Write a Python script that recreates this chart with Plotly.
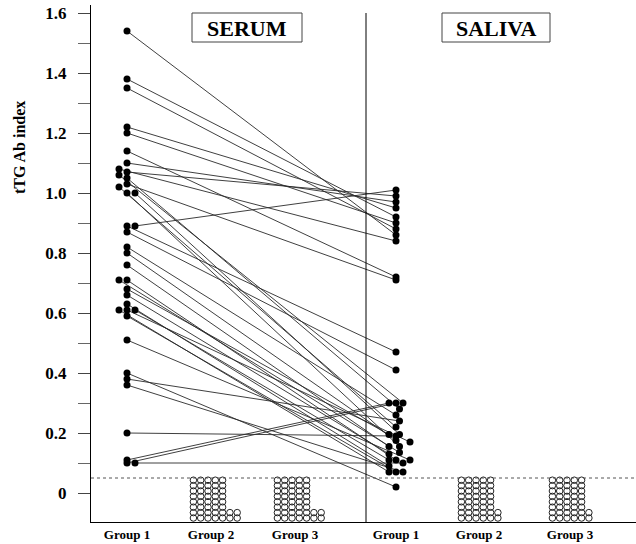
import plotly.graph_objects as go

# ---------------- data ----------------
group_labels = ["Group 1", "Group 2", "Group 3", "Group 1", "Group 2", "Group 3"]
panel_labels = ["SERUM", "SALIVA"]
ytick_vals = [0, 0.2, 0.4, 0.6, 0.8, 1.0, 1.2, 1.4, 1.6]
ytick_text = ["0", "0.2", "0.4", "0.6", "0.8", "1.0", "1.2", "1.4", "1.6"]
cutoff = 0.05

# Paired values, Group 1 patients: serum index and saliva index
serum_g1 = [1.54, 1.38, 1.35, 1.22, 1.20, 1.14, 1.10, 1.08, 1.07, 1.06,
            1.05, 1.03, 1.02, 1.00, 1.00, 0.89, 0.89, 0.87, 0.82, 0.80,
            0.76, 0.71, 0.71, 0.68, 0.66, 0.63, 0.61, 0.61, 0.61, 0.59,
            0.51, 0.40, 0.38, 0.36, 0.20, 0.11, 0.10, 0.10]
saliva_g1 = [0.86, 0.92, 0.88, 0.95, 0.90, 0.72, 0.97, 0.84, 0.99, 0.30,
             0.28, 0.71, 0.22, 0.195, 0.155, 0.47, 1.01, 0.41, 0.26, 0.175,
             0.155, 0.135, 0.11, 0.195, 0.13, 0.09, 0.07, 0.17, 0.11, 0.07,
             0.11, 0.02, 0.24, 0.07, 0.19, 0.30, 0.30, 0.10]
# dot-plot column slot (overlapping points pushed sideways)
serum_slot = [0, 0, 0, 0, 0, 0, 0, -1, 0, -1,
              0, 0, -1, 1, 0, 0, 1, 0, 0, 0,
              0, -1, 0, 0, 0, 0, -1, 0, 1, 0,
              0, 0, 0, 0, 0, 0, 0, 1]
saliva_slot = [0, 0, 0, 0, 0, 0, 0, 0, 0, 1,
               0.5, 0, 0, 0.5, 0.5, 0, 0, 0, 0, 0,
               -1, 0.5, 0, -1, -1, -1, -1, 2, -1, 0,
               2, 0, 0.5, 1, 0, -1, 0, 1]

# Groups 2 and 3: number of subjects (all negative, drawn as open circles)
serum_g2_n = 44
serum_g3_n = 44
saliva_g2_n = 42
saliva_g3_n = 42

# ---------------- layout helpers ----------------
W, H = 636, 544
ML, MR, MT, MB = 91, 0, 5, 22
X0_PX, PX_PER_X = 127.0, 84.0          # x=1 at 127 px, 84 px per unit
Y0_PX, PX_PER_Y = 493.0, 300.0          # y=0 at 493 px, 300 px per unit

def xd(px):
    return (px - X0_PX) / PX_PER_X + 1

def yd(py):
    return (Y0_PX - py) / PX_PER_Y

x_range = [xd(ML), xd(W - MR)]
y_range = [yd(H - MB), yd(MT)]

centers = [xd(127), xd(211), xd(295), xd(396), xd(479), xd(570)]
slot_dx = 8 / PX_PER_X
saliva_dx = 7 / PX_PER_X

serum_x = [centers[0] + s * slot_dx for s in serum_slot]
saliva_x = [centers[3] + s * saliva_dx for s in saliva_slot]

fig = go.Figure()

# connecting lines
lx, ly = [], []
for a, b, c, d in zip(serum_x, serum_g1, saliva_x, saliva_g1):
    lx += [a, c, None]
    ly += [b, d, None]
fig.add_trace(go.Scatter(x=lx, y=ly, mode="lines",
                         line=dict(color="#2a2a2a", width=0.9),
                         hoverinfo="skip", showlegend=False))

fig.add_trace(go.Scatter(x=serum_x, y=serum_g1, mode="markers",
                         marker=dict(color="black", size=7),
                         showlegend=False))
fig.add_trace(go.Scatter(x=saliva_x, y=saliva_g1, mode="markers",
                         marker=dict(color="black", size=7),
                         showlegend=False))

# open-circle blocks for negative groups
col_dx = 7.3 / PX_PER_X
row_dy = 5.4 / PX_PER_Y
top_row_y = yd(518)

def block(n, cx, wide):
    xs, ys = [], []
    rows = []
    remaining = n
    for _ in range(2):
        k = min(wide, remaining)
        rows.append(k)
        remaining -= k
    while remaining > 0:
        k = min(5, remaining)
        rows.append(k)
        remaining -= k
    for r, k in enumerate(rows):
        for c in range(k):
            xs.append(cx + (c - 2) * col_dx - 3 / PX_PER_X)
            ys.append(top_row_y + r * row_dy)
    return xs, ys

for n, ci, wide in [(serum_g2_n, 1, 7), (serum_g3_n, 2, 7),
                    (saliva_g2_n, 4, 6), (saliva_g3_n, 5, 6)]:
    bx, by = block(n, centers[ci], wide)
    fig.add_trace(go.Scatter(x=bx, y=by, mode="markers",
                             marker=dict(symbol="circle-open", size=6.5,
                                         color="#222222", line=dict(width=1)),
                             showlegend=False))

serif = "Liberation Serif, Times New Roman, serif"

# cutoff dashed line
fig.add_shape(type="line", xref="paper", x0=0, x1=1, yref="y",
              y0=cutoff, y1=cutoff,
              line=dict(color="#555555", width=1, dash="dot"))
# vertical divider
fig.add_shape(type="line", xref="x", x0=xd(366), x1=xd(366), yref="y",
              y0=y_range[0], y1=yd(13), line=dict(color="black", width=1))

# panel title boxes
for label, (px0, px1) in zip(panel_labels, [(192, 302), (442, 550)]):
    fig.add_shape(type="rect", xref="x", yref="y",
                  x0=xd(px0), x1=xd(px1), y0=yd(42), y1=yd(13),
                  line=dict(color="#444444", width=1), fillcolor="white")
    fig.add_annotation(x=xd((px0 + px1) / 2), y=yd(28), xref="x", yref="y",
                       text=label, showarrow=False,
                       font=dict(family=serif, size=22, color="black",
                                 weight="bold"))

# y-axis title
fig.add_annotation(xref="paper", yref="paper",
                   x=(20 - ML) / (W - ML - MR),
                   y=(H - 148 - MB) / (H - MT - MB),
                   xanchor="center", yanchor="middle",
                   text="tTG Ab index", textangle=-90, showarrow=False,
                   font=dict(family=serif, size=16, color="black",
                             weight="bold"))

fig.update_layout(
    width=W, height=H,
    margin=dict(l=ML, r=MR, t=MT, b=MB, pad=0),
    paper_bgcolor="white", plot_bgcolor="white",
    showlegend=False,
    xaxis=dict(range=x_range, showgrid=False, zeroline=False,
               showline=True, linecolor="black", linewidth=1,
               tickvals=centers, ticktext=group_labels, ticks="",
               tickfont=dict(family=serif, size=13, color="black",
                             weight="bold")),
    yaxis=dict(range=y_range, showgrid=False, zeroline=False,
               showline=True, linecolor="black", linewidth=1,
               tickvals=ytick_vals, ticktext=ytick_text,
               ticks="outside", ticklen=12, tickcolor="#444444",
               ticklabelstandoff=8,
               tickfont=dict(family=serif, size=17, color="black",
                             weight="bold"),
               minor=dict(tickvals=[0.1, 0.3, 0.5, 0.7, 0.9, 1.1, 1.3, 1.5],
                          ticks="outside", ticklen=12,
                          tickcolor="#666666")),
)

fig.write_html("out.html",
               config={"displayModeBar": False},
               post_script="document.body.style.margin='0px';"
                           "document.body.style.padding='0px';")
